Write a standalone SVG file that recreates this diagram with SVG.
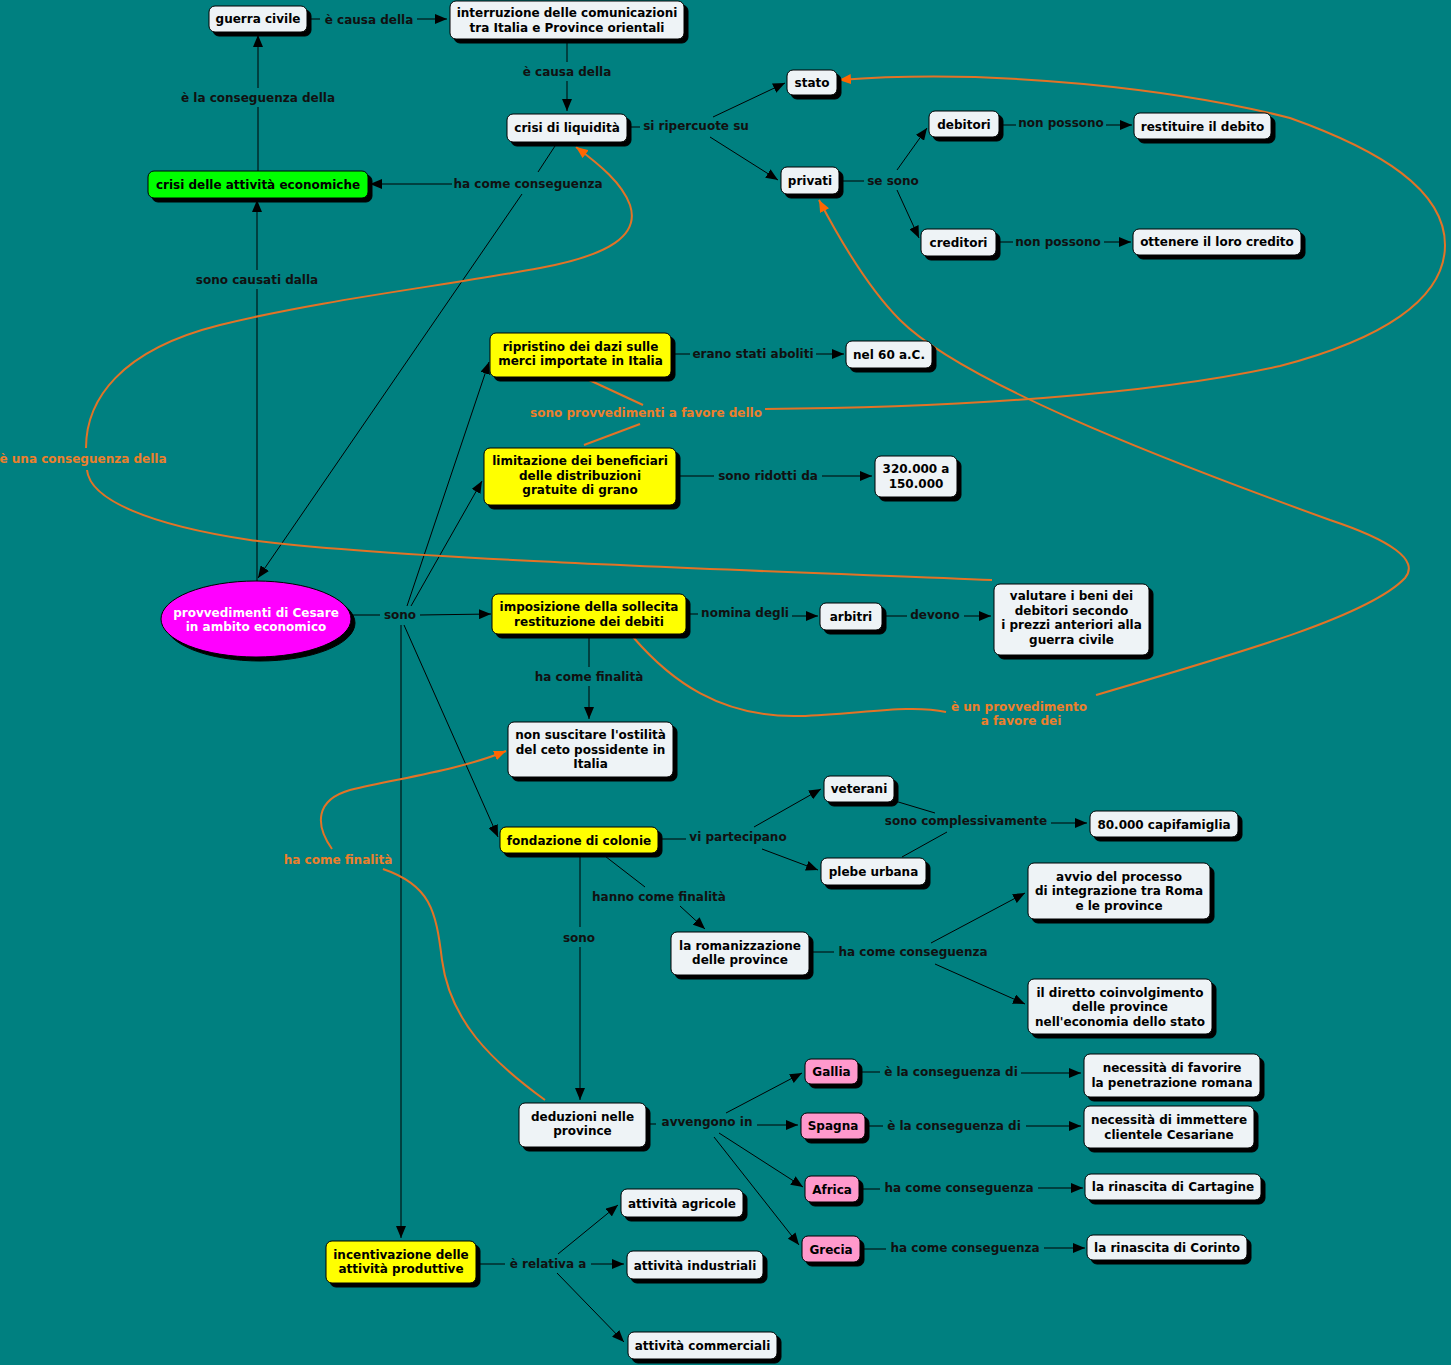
<svg xmlns="http://www.w3.org/2000/svg" width="1451" height="1365" viewBox="0 0 1451 1365">
<defs>
<marker id="ab" markerUnits="userSpaceOnUse" markerWidth="12" markerHeight="10" refX="12" refY="5" orient="auto"><path d="M0,0 L12,5 L0,10 z" fill="#000"/></marker>
<marker id="ao" markerUnits="userSpaceOnUse" markerWidth="12" markerHeight="10" refX="12" refY="5" orient="auto"><path d="M0,0 L12,5 L0,10 z" fill="#ff6600"/></marker>
<filter id="sh" x="-10%" y="-10%" width="130%" height="140%"><feDropShadow dx="4" dy="4" stdDeviation="0.4" flood-color="#000" flood-opacity="1"/></filter>
<style>
text{font-family:"DejaVu Sans",Verdana,sans-serif;font-weight:bold;font-size:12px;text-anchor:middle}
.n rect,.n ellipse{stroke:#000;stroke-width:1;filter:url(#sh)}
.w rect{fill:#eef3f6}
.y rect{fill:#ffff00}
.g rect{fill:#00ff00}
.p rect{fill:#ff99cc}
.n text{fill:#000}
.c path{fill:none;stroke:#000;stroke-width:1}
.c path.a{marker-end:url(#ab)}
.o path{fill:none;stroke:#e37326;stroke-width:2}
.o path.a{marker-end:url(#ao)}
.l{fill:#111}
.ol{fill:#ec7f2c}
</style>
</defs>
<rect width="1451" height="1365" fill="#008080"/>

<g id="connectors" class="c">
<path d="M310,19 L320,19"/><path class="a" d="M417,19 L447,19"/>
<path d="M567,39 L567,62"/><path class="a" d="M567,81 L567,111"/>
<path d="M627,127 L640,127"/><path class="a" d="M713,117 L785,83"/><path class="a" d="M710,137 L778,180"/>
<path d="M839,181 L864,181"/><path class="a" d="M897,170 L927,128"/><path class="a" d="M897,190 L919,238"/>
<path d="M999,125 L1016,125"/><path class="a" d="M1106,125 L1132,125"/>
<path d="M996,242 L1013,242"/><path class="a" d="M1104,242 L1131,242"/>
<path d="M555,146 L538,172"/><path class="a" d="M452,184 L370,184"/><path class="a" d="M522,194 L258,578"/>
<path d="M258,171 L258,107"/><path class="a" d="M258,88 L258,35"/>
<path d="M257,581 L257,289"/><path class="a" d="M257,270 L257,200"/>
<path d="M351,615 L380,615"/><path class="a" d="M407,606 L489,362"/><path class="a" d="M411,606 L482,481"/><path class="a" d="M420,615 L491,614"/><path class="a" d="M404,625 L498,837"/><path class="a" d="M401,625 L401,1238"/>
<path d="M671,354 L690,354"/><path class="a" d="M816,354 L844,354"/>
<path d="M676,476 L714,476"/><path class="a" d="M822,476 L872,476"/>
<path d="M686,614 L698,614"/><path class="a" d="M792,616 L818,616"/>
<path d="M882,616 L907,616"/><path class="a" d="M964,616 L991,616"/>
<path d="M589,634 L589,667"/><path class="a" d="M589,686 L589,719"/>
<path d="M658,839 L686,839"/><path class="a" d="M754,827 L821,789"/><path class="a" d="M762,849 L818,870"/>
<path d="M895,801 L935,813"/><path d="M902,857 L947,832"/><path class="a" d="M1051,823 L1087,823"/>
<path d="M601,853 L645,887"/><path class="a" d="M680,906 L705,929"/>
<path d="M580,853 L580,927"/><path class="a" d="M580,947 L580,1100"/>
<path d="M809,952 L834,952"/><path class="a" d="M931,943 L1025,893"/><path class="a" d="M935,964 L1025,1004"/>
<path d="M646,1124 L656,1124"/><path class="a" d="M726,1113 L802,1073"/><path class="a" d="M757,1125 L798,1125"/><path class="a" d="M719,1133 L803,1187"/><path class="a" d="M714,1137 L799,1245"/>
<path d="M858,1072 L880,1072"/><path class="a" d="M1021,1073 L1081,1073"/>
<path d="M865,1126 L883,1126"/><path class="a" d="M1026,1126 L1081,1126"/>
<path d="M859,1189 L880,1189"/><path class="a" d="M1038,1188 L1083,1188"/>
<path d="M860,1249 L886,1249"/><path class="a" d="M1044,1248 L1085,1248"/>
<path d="M476,1264 L505,1264"/><path class="a" d="M558,1254 L618,1205"/><path class="a" d="M591,1264 L624,1264"/><path class="a" d="M557,1273 L624,1342"/>
<g class="o">
<path d="M992,580 C800,572 400,560 250,540 C150,525 90,500 87,470"/>
<path class="a" d="M86,448 C86,400 120,350 220,325 C320,300 450,285 540,268 C610,255 640,235 630,205 C622,183 600,165 576,147"/>
<path d="M587,379 L643,405"/><path d="M584,445 L640,424"/>
<path class="a" d="M765,409 C950,408 1150,395 1280,366 C1380,340 1445,300 1445,245 C1445,190 1380,150 1290,118 C1180,90 1000,68 839,80"/>
<path d="M633,637 C670,680 720,718 800,716 C860,714 910,704 946,712"/>
<path class="a" d="M1096,695 C1250,650 1370,615 1405,578 C1420,560 1390,540 1330,520 C1150,455 960,380 900,320 C870,290 840,240 819,200"/>
<path d="M545,1100 C490,1060 450,1020 442,960 C436,910 430,885 383,869"/>
<path class="a" d="M332,849 C315,825 315,800 350,790 C400,778 460,770 506,751"/>
</g>
<g>
<text class="l" x="369" y="23.5">è causa della</text>
<text class="l" x="567" y="75.5">è causa della</text>
<text class="l" x="696" y="129.5">si ripercuote su</text>
<text class="l" x="893" y="184.5">se sono</text>
<text class="l" x="1061" y="126.5">non possono</text>
<text class="l" x="1058" y="245.5">non possono</text>
<text class="l" x="528" y="187.5">ha come conseguenza</text>
<text class="l" x="258" y="101.5">è la conseguenza della</text>
<text class="l" x="257" y="283.5">sono causati dalla</text>
<text class="l" x="400" y="619">sono</text>
<text class="l" x="753" y="358">erano stati aboliti</text>
<text class="l" x="768" y="480">sono ridotti da</text>
<text class="l" x="745" y="617">nomina degli</text>
<text class="l" x="935" y="619">devono</text>
<text class="l" x="589" y="680.5">ha come finalità</text>
<text class="l" x="738" y="841">vi partecipano</text>
<text class="l" x="966" y="825">sono complessivamente</text>
<text class="l" x="659" y="900.5">hanno come finalità</text>
<text class="l" x="579" y="941.5">sono</text>
<text class="l" x="913" y="955.5">ha come conseguenza</text>
<text class="l" x="707" y="1126">avvengono in</text>
<text class="l" x="951" y="1075.5">è la conseguenza di</text>
<text class="l" x="954" y="1129.5">è la conseguenza di</text>
<text class="l" x="959" y="1192">ha come conseguenza</text>
<text class="l" x="965" y="1252">ha come conseguenza</text>
<text class="l" x="548" y="1267.5">è relativa a</text>
<text class="ol" x="83" y="462.5">è una conseguenza della</text>
<text class="ol" x="646" y="416.5">sono provvedimenti a favore dello</text>
<text class="ol" x="1019" y="710.5">è un provvedimento</text>
<text class="ol" x="1021" y="725">a favore dei</text>
<text class="ol" x="338" y="863.5">ha come finalità</text>
</g>
</g>

<g id="n1" class="n w"><rect x="209" y="6" width="98" height="26" rx="6"/><text x="258" y="22.5">guerra civile</text></g>
<g id="n2" class="n w"><rect x="450" y="1" width="234" height="38" rx="6"/><text x="567" y="17">interruzione delle comunicazioni</text><text x="567" y="31.5">tra Italia e Province orientali</text></g>
<g id="n3" class="n w"><rect x="507" y="114" width="120" height="28" rx="6"/><text x="567" y="132">crisi di liquidità</text></g>
<g id="n4" class="n w"><rect x="787" y="70" width="50" height="25" rx="6"/><text x="812" y="86.5">stato</text></g>
<g id="n5" class="n w"><rect x="929" y="111" width="70" height="26" rx="6"/><text x="964" y="128.5">debitori</text></g>
<g id="n6" class="n w"><rect x="1134" y="113" width="137" height="26" rx="6"/><text x="1202.5" y="130.5">restituire il debito</text></g>
<g id="n7" class="n w"><rect x="781" y="167" width="58" height="27" rx="6"/><text x="810" y="184.5">privati</text></g>
<g id="n8" class="n w"><rect x="921" y="229" width="75" height="27" rx="6"/><text x="958.5" y="246.5">creditori</text></g>
<g id="n9" class="n w"><rect x="1133" y="229" width="168" height="26" rx="6"/><text x="1217" y="246">ottenere il loro credito</text></g>
<g id="n10" class="n g"><rect x="148" y="171" width="220" height="27" rx="6"/><text x="258" y="188.5">crisi delle attività economiche</text></g>
<g id="n11" class="n y"><rect x="490" y="333" width="181" height="44" rx="6"/><text x="580.5" y="350.5">ripristino dei dazi sulle</text><text x="580.5" y="365">merci importate in Italia</text></g>
<g id="n12" class="n w"><rect x="846" y="341" width="86" height="27" rx="6"/><text x="889" y="358.5">nel 60 a.C.</text></g>
<g id="n13" class="n y"><rect x="484" y="448" width="192" height="57" rx="6"/><text x="580" y="465">limitazione dei beneficiari</text><text x="580" y="479.5">delle distribuzioni</text><text x="580" y="494">gratuite di grano</text></g>
<g id="n14" class="n w"><rect x="875" y="456" width="82" height="41" rx="6"/><text x="916" y="473">320.000 a</text><text x="916" y="487.5">150.000</text></g>
<g id="n15" class="n"><ellipse cx="256" cy="619" rx="95" ry="38" fill="#ff00ff"/><text x="256" y="616.5" style="fill:#fff">provvedimenti di Cesare</text><text x="256" y="631" style="fill:#fff">in ambito economico</text></g>
<g id="n16" class="n y"><rect x="492" y="594" width="194" height="40" rx="6"/><text x="589" y="611">imposizione della sollecita</text><text x="589" y="625.5">restituzione dei debiti</text></g>
<g id="n17" class="n w"><rect x="820" y="603" width="62" height="27" rx="6"/><text x="851" y="620.5">arbitri</text></g>
<g id="n18" class="n w"><rect x="994" y="584" width="155" height="71" rx="6"/><text x="1071.5" y="600">valutare i beni dei</text><text x="1071.5" y="614.5">debitori secondo</text><text x="1071.5" y="629">i prezzi anteriori alla</text><text x="1071.5" y="643.5">guerra civile</text></g>
<g id="n19" class="n w"><rect x="508" y="722" width="165" height="55" rx="6"/><text x="590.5" y="739">non suscitare l'ostilità</text><text x="590.5" y="753.5">del ceto possidente in</text><text x="590.5" y="768">Italia</text></g>
<g id="n20" class="n w"><rect x="824" y="776" width="70" height="26" rx="6"/><text x="859" y="792.5">veterani</text></g>
<g id="n21" class="n w"><rect x="1090" y="811" width="148" height="26" rx="6"/><text x="1164" y="828.5">80.000 capifamiglia</text></g>
<g id="n22" class="n y"><rect x="500" y="827" width="158" height="26" rx="6"/><text x="579" y="844.5">fondazione di colonie</text></g>
<g id="n23" class="n w"><rect x="821" y="858" width="105" height="27" rx="6"/><text x="873.5" y="875.5">plebe urbana</text></g>
<g id="n24" class="n w"><rect x="1028" y="863" width="182" height="56" rx="6"/><text x="1119" y="880.5">avvio del processo</text><text x="1119" y="895">di integrazione tra Roma</text><text x="1119" y="909.5">e le province</text></g>
<g id="n25" class="n w"><rect x="671" y="932" width="138" height="43" rx="6"/><text x="740" y="949.5">la romanizzazione</text><text x="740" y="964">delle province</text></g>
<g id="n26" class="n w"><rect x="1028" y="979" width="184" height="55" rx="6"/><text x="1120" y="996.5">il diretto coinvolgimento</text><text x="1120" y="1011">delle province</text><text x="1120" y="1025.5">nell'economia dello stato</text></g>
<g id="n27" class="n p"><rect x="805" y="1059" width="53" height="25" rx="6"/><text x="831.5" y="1075.5">Gallia</text></g>
<g id="n28" class="n w"><rect x="1084" y="1054" width="176" height="43" rx="6"/><text x="1172" y="1072">necessità di favorire</text><text x="1172" y="1086.5">la penetrazione romana</text></g>
<g id="n29" class="n w"><rect x="519" y="1103" width="127" height="44" rx="6"/><text x="582.5" y="1120.5">deduzioni nelle</text><text x="582.5" y="1135">province</text></g>
<g id="n30" class="n p"><rect x="801" y="1113" width="64" height="26" rx="6"/><text x="833" y="1129.5">Spagna</text></g>
<g id="n31" class="n w"><rect x="1084" y="1106" width="170" height="42" rx="6"/><text x="1169" y="1124">necessità di immettere</text><text x="1169" y="1138.5">clientele Cesariane</text></g>
<g id="n32" class="n p"><rect x="805" y="1176" width="54" height="26" rx="6"/><text x="832" y="1193.5">Africa</text></g>
<g id="n33" class="n w"><rect x="1085" y="1174" width="176" height="26" rx="6"/><text x="1173" y="1190.5">la rinascita di Cartagine</text></g>
<g id="n34" class="n w"><rect x="621" y="1189" width="122" height="28" rx="6"/><text x="682" y="1207.5">attività agricole</text></g>
<g id="n35" class="n p"><rect x="802" y="1236" width="58" height="26" rx="6"/><text x="831" y="1253.5">Grecia</text></g>
<g id="n36" class="n w"><rect x="1087" y="1235" width="160" height="25" rx="6"/><text x="1167" y="1251.5">la rinascita di Corinto</text></g>
<g id="n37" class="n y"><rect x="326" y="1241" width="150" height="42" rx="6"/><text x="401" y="1258.5">incentivazione delle</text><text x="401" y="1273">attività produttive</text></g>
<g id="n38" class="n w"><rect x="627" y="1251" width="136" height="28" rx="6"/><text x="695" y="1270">attività industriali</text></g>
<g id="n39" class="n w"><rect x="628" y="1332" width="149" height="27" rx="6"/><text x="702.5" y="1350">attività commerciali</text></g>
</svg>
